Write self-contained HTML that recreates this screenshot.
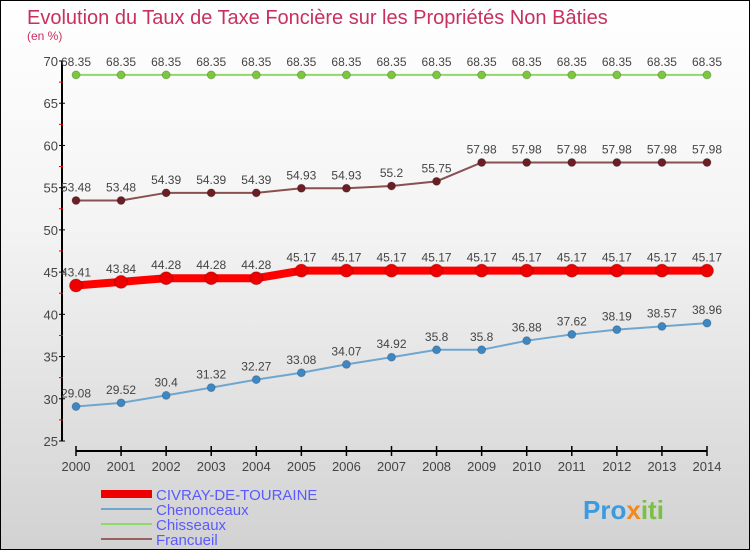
<!DOCTYPE html>
<html><head><meta charset="utf-8"><style>
body{margin:0}
#c{width:748px;height:548px;border:1px solid #000;background:linear-gradient(#fff,#f4f4f4 40%,#d2d2d2);position:relative;overflow:hidden;font-family:"Liberation Sans",sans-serif}
</style></head><body>
<div id="c">
<svg id="s" width="748" height="548" style="position:absolute;left:0;top:0">
<text x="26" y="23" font-size="20" fill="#c8305e">Evolution du Taux de Taxe Foncière sur les Propriétés Non Bâties</text>
<text x="26" y="39" font-size="12" fill="#c8305e">(en %)</text>
<g id="g"></g>
<g>
<rect x="100" y="489" width="51" height="8" fill="#e00"/>
<text x="155" y="499" font-size="15" fill="#5a5aff">CIVRAY-DE-TOURAINE</text>
<rect x="100" y="507" width="51" height="2" fill="#6fa6cf"/>
<text x="155" y="514" font-size="15" fill="#5a5aff">Chenonceaux</text>
<rect x="100" y="522" width="51" height="2" fill="#8fd86a"/>
<text x="155" y="529" font-size="15" fill="#5a5aff">Chisseaux</text>
<rect x="100" y="537" width="51" height="2" fill="#9a6060"/>
<text x="155" y="544" font-size="15" fill="#5a5aff">Francueil</text>
</g>
<text x="582" y="518" font-size="26" font-weight="bold" fill="#3a9be0">Pro<tspan fill="#f08a1c">x</tspan><tspan fill="#7ac143">iti</tspan></text>
</svg>
</div>
<script>
const years=[2000,2001,2002,2003,2004,2005,2006,2007,2008,2009,2010,2011,2012,2013,2014];
const civray=[43.41,43.84,44.28,44.28,44.28,45.17,45.17,45.17,45.17,45.17,45.17,45.17,45.17,45.17,45.17];
const chenonceaux=[29.08,29.52,30.4,31.32,32.27,33.08,34.07,34.92,35.8,35.8,36.88,37.62,38.19,38.57,38.96];
const chisseaux=[68.35,68.35,68.35,68.35,68.35,68.35,68.35,68.35,68.35,68.35,68.35,68.35,68.35,68.35,68.35];
const francueil=[53.48,53.48,54.39,54.39,54.39,54.93,54.93,55.2,55.75,57.98,57.98,57.98,57.98,57.98,57.98];
const yTicks=[25,30,35,40,45,50,55,60,65,70];
const NS="http://www.w3.org/2000/svg";
const g=document.getElementById('g');
const X=i=>75+i*(706-75)/(years.length-1);
const Y=v=>440-(v-25)*(380/45);
function el(t,a,p){const e=document.createElementNS(NS,t);for(const k in a)e.setAttribute(k,a[k]);(p||g).appendChild(e);return e;}
const ax=el('path',{d:`M61 ${Y(70)}V440M75 450H706`,stroke:'#000','stroke-width':2,fill:'none'});


yTicks.forEach(v=>{
 el('line',{x1:58,x2:64,y1:Y(v),y2:Y(v),stroke:'#000'});
 if(v<70)el('line',{x1:58,x2:62,y1:Y(v+2.5),y2:Y(v+2.5),stroke:'#e00'});
 const t=el('text',{x:57,y:Y(v)+5,'font-size':13,fill:'#444','text-anchor':'end'});t.textContent=v;
 
 
});
years.forEach((y,i)=>{
 el('line',{x1:X(i),x2:X(i),y1:445,y2:455,stroke:'#000','stroke-width':1.5});
 const t=el('text',{x:X(i),y:470,'font-size':13,fill:'#444','text-anchor':'middle'});t.textContent=y;
 
 
});
function series(name,vals,color,w,r,dot){
 const gg=el('g',{});
 
 
 el('polyline',{points:vals.map((v,i)=>X(i)+','+Y(v)).join(' '),fill:'none',stroke:color,'stroke-width':w},gg);
 vals.forEach((v,i)=>{
  const c=el('circle',{cx:X(i),cy:Y(v),r:r,fill:dot,stroke:'#0003'},gg);
  
  
  const t=el('text',{x:X(i),y:Y(v)-9,'font-size':12,fill:'#444','text-anchor':'middle'},gg);t.textContent=v;
  
  
 });
}
series('chisseaux',chisseaux,'#8fd86a',2,4,'#7cc83c');
series('francueil',francueil,'#8a5050',2,4,'#6b1f24');
series('chenonceaux',chenonceaux,'#6fa6cf',2,4,'#3d88c4');
series('civray',civray,'#f00',8,6.5,'#e00');
</script>
</body></html>
